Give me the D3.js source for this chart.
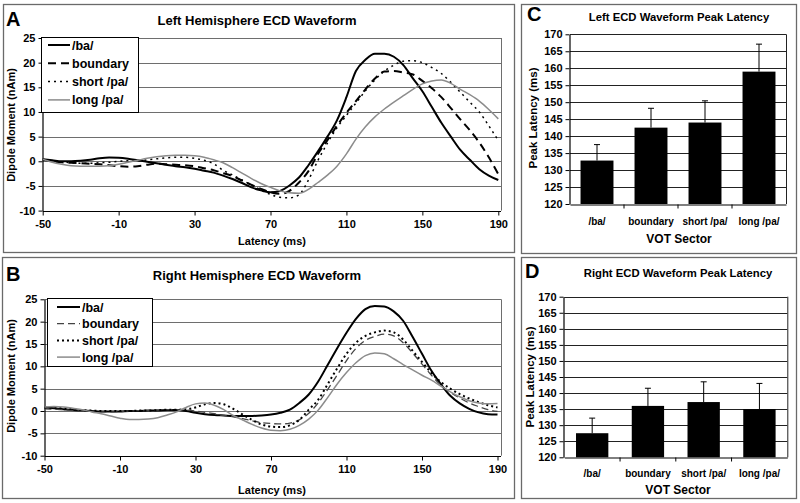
<!DOCTYPE html>
<html><head><meta charset="utf-8">
<script src="https://cdn.jsdelivr.net/npm/d3@7"></script>
<style>
html,body{margin:0;padding:0;background:#fff;}
svg{display:block;font-family:"Liberation Sans",Arial,sans-serif;}
</style></head>
<body><svg id="c" width="800" height="503"></svg>
<script>
// ---------------- DATA ----------------
const latency = [-50,-45,-40,-35,-30,-25,-20,-15,-10,-5,0,5,10,15,20,25,30,35,40,45,50,55,60,65,70,75,80,85,90,95,100,105,110,115,120,125,130,135,140,145,150,155,160,165,170,175,180,185,190];
const seriesNames = ["/ba/","boundary","short /pa/","long /pa/"];
const latencyTicks = [-50,-10,30,70,110,150,190];
const momentTicks = [-10,-5,0,5,10,15,20,25];

const leftBa = [0.4,0.2,0.0,0.0,0.1,0.3,0.6,0.75,0.7,0.5,
  0.2,-0.1,-0.4,-0.7,-1.0,-1.2,-1.5,-1.9,-2.3,-2.9,
  -3.6,-4.4,-5.3,-5.9,-6.3,-6.0,-4.9,-3.3,-0.8,2.0,
  5.0,8.3,13.0,18.3,20.6,21.8,21.8,21.2,19.5,16.8,
  14.2,11.0,7.8,5.0,2.3,0.3,-1.6,-2.9,-3.8];
const leftBoundary = [0.3,0.0,-0.2,-0.3,-0.4,-0.5,-0.6,-0.8,-1.0,-1.1,
  -1.0,-0.7,-0.5,-0.6,-0.7,-0.8,-1.0,-1.4,-1.8,-2.4,
  -3.0,-3.9,-4.8,-5.6,-6.3,-6.6,-6.0,-4.3,-2.0,1.5,
  4.3,7.2,9.8,12.2,14.6,16.8,18.2,18.3,18.0,17.6,
  16.3,14.8,13.0,10.8,8.5,6.3,3.8,0.8,-2.6];
const leftShort = [0.4,0.1,-0.1,-0.3,-0.4,-0.4,-0.3,-0.2,0.0,0.1,
  0.1,0.3,0.5,0.7,0.8,0.8,0.6,0.2,-0.5,-1.8,
  -2.8,-3.8,-4.8,-5.8,-6.7,-7.3,-7.4,-6.8,-3.8,0.2,
  3.7,6.8,9.3,11.8,14.3,16.5,18.3,19.5,20.3,20.4,
  20.0,19.0,17.8,16.0,14.0,12.0,10.0,7.2,4.2];
const leftLong = [0.4,-0.2,-0.6,-0.9,-1.0,-1.0,-1.0,-0.9,-0.6,-0.2,
  0.2,0.6,0.9,1.1,1.2,1.2,1.1,0.8,0.3,-0.3,
  -1.3,-2.4,-3.5,-4.5,-5.3,-6.0,-6.4,-6.5,-5.7,-4.3,
  -2.8,-1.0,1.5,4.5,7.0,9.0,10.6,12.0,13.3,14.6,
  15.7,16.3,16.5,15.8,14.6,13.5,12.2,10.5,8.6];

const rightBa = [0.8,0.6,0.4,0.2,0.1,0.0,-0.1,-0.1,-0.1,0.0,
  0.0,0.1,0.1,0.2,0.2,0.0,-0.4,-0.7,-0.9,-1.0,
  -1.1,-1.1,-1.1,-1.0,-0.8,-0.4,0.3,1.8,3.7,6.6,
  10.3,14.0,17.5,20.6,22.8,23.5,23.4,22.3,20.2,16.6,
  12.8,9.0,6.0,3.4,1.7,0.5,-0.3,-0.7,-0.8];
const rightBoundary = [0.5,0.4,0.3,0.1,0.0,-0.1,-0.2,-0.2,-0.1,0.0,
  0.1,0.1,0.2,0.3,0.3,0.2,0.0,-0.3,-0.6,-1.0,
  -1.3,-1.7,-2.2,-2.6,-2.8,-2.9,-2.7,-2.0,-0.5,1.8,
  4.8,8.0,11.3,14.0,15.8,16.7,17.2,16.8,15.3,13.0,
  10.5,8.0,5.8,4.2,2.9,1.8,1.0,0.3,-0.1];
const rightShort = [0.8,0.7,0.6,0.4,0.2,0.1,0.0,0.0,0.0,0.0,
  0.1,0.1,0.2,0.3,0.3,0.4,0.8,1.5,1.8,1.5,
  0.5,-0.8,-2.0,-3.0,-3.5,-3.6,-3.2,-2.0,0.3,2.5,
  6.0,9.5,12.8,15.3,16.8,17.6,18.0,17.6,16.0,13.5,
  11.0,8.5,6.5,5.0,3.8,2.8,2.0,1.3,0.8];
const rightLong = [0.9,1.0,0.9,0.6,0.3,-0.2,-0.6,-1.1,-1.6,-1.9,
  -1.9,-1.8,-1.5,-0.9,-0.2,0.8,1.6,1.8,1.3,0.3,
  -1.0,-2.0,-3.0,-3.8,-4.3,-4.4,-4.1,-3.2,-1.8,0.2,
  3.0,6.0,8.6,10.8,12.4,13.0,12.8,11.7,10.4,9.2,
  8.0,6.9,5.6,4.3,3.2,2.3,1.8,1.6,1.7];

const sectors = ["/ba/","boundary","short /pa/","long /pa/"];
const latencyBarTicks = [120,125,130,135,140,145,150,155,160,165,170];
const leftPeak = [132.8,142.5,144.0,159.0];
const leftPeakErr = [4.7,5.7,6.4,8.1];
const rightPeak = [127.5,136.0,137.2,135.0];
const rightPeakErr = [4.7,5.5,6.3,8.0];

// ---------------- DRAWING ----------------
const svg = d3.select("#c");
const FONT = '"Liberation Sans",Arial,sans-serif';
const plain = d => String(d);

function panelBox(x0,y0,x1,y1){
  svg.append("rect").attr("x",x0+0.5).attr("y",y0+0.5).attr("width",x1-x0).attr("height",y1-y0)
    .attr("fill","#fff").attr("stroke","#6a6a6a").attr("stroke-width",1.3);
}
function text(x,y,s,opt){
  opt=opt||{};
  const t=svg.append("text").attr("x",x).attr("y",y).text(s)
    .attr("font-size",opt.size||11).attr("font-weight",opt.weight||"bold")
    .attr("text-anchor",opt.anchor||"middle").attr("fill","#000");
  if(opt.rotate) t.attr("transform",`rotate(-90,${x},${y})`);
  return t;
}

function waveform(cfg){
  const x=d3.scaleLinear().domain([-50,190]).range([cfg.x0,cfg.x1]);
  const y=d3.scaleLinear().domain([-10,25]).range([cfg.yb,cfg.yt]);
  const g=svg.append("g");
  g.selectAll("line.grid").data(momentTicks.filter(v=>v>-10)).enter().append("line")
    .attr("x1",cfg.x0).attr("x2",cfg.xr).attr("y1",d=>Math.round(y(d))+0.5).attr("y2",d=>Math.round(y(d))+0.5)
    .attr("stroke","#6e6e6e").attr("stroke-width",1);
  g.append("line").attr("x1",cfg.xr+0.5).attr("x2",cfg.xr+0.5).attr("y1",y(25)).attr("y2",y(-10))
    .attr("stroke","#6e6e6e");
  const ya=g.append("g").attr("transform",`translate(${Math.round(cfg.x0)-0.5},0)`)
    .call(d3.axisLeft(y).tickValues(momentTicks).tickFormat(plain).tickSize(4).tickSizeOuter(0).tickPadding(3));
  const xa=g.append("g").attr("transform",`translate(0,${Math.round(y(-10))+0.5})`)
    .call(d3.axisBottom(x).tickValues(latencyTicks).tickFormat(plain).tickSize(4).tickSizeOuter(0).tickPadding(5));
  [ya,xa].forEach(a=>{
    a.select(".domain").attr("stroke","#000").attr("stroke-width",1.2);
    a.selectAll(".tick line").attr("stroke","#000");
    a.selectAll("text").attr("font-family",FONT).attr("font-size",11).attr("font-weight","bold").attr("fill","#000");
  });
  xa.select(".domain").attr("d",`M${cfg.x0},0H${cfg.xr}`);
  const line=d3.line().x((d,i)=>x(latency[i])).y(d=>y(d)).curve(d3.curveMonotoneX);
  cfg.series.forEach(s=>{
    g.append("path").datum(s.values).attr("d",line).attr("fill","none")
      .attr("stroke",s.color).attr("stroke-width",s.width).attr("stroke-dasharray",s.dash||null)
      .attr("stroke-linejoin","round");
  });
  const L=cfg.legend;
  g.append("rect").attr("x",L.x+0.5).attr("y",L.y+0.5).attr("width",L.w).attr("height",L.h)
    .attr("fill","#fff").attr("stroke","#000").attr("stroke-width",1);
  cfg.series.forEach((s,i)=>{
    const yy=L.y+L.first+i*L.step;
    g.append("line").attr("x1",L.x+L.s0).attr("x2",L.x+L.s1).attr("y1",yy).attr("y2",yy)
      .attr("stroke",s.color).attr("stroke-width",s.width).attr("stroke-dasharray",s.dash||null);
    g.append("text").attr("x",L.x+L.s1+2).attr("y",yy+4.5).text(seriesNames[i])
      .attr("font-size",12.5).attr("font-weight","bold").attr("fill","#000");
  });
  text(cfg.letterX,cfg.titleY+1,cfg.letter,{size:20,anchor:"start"});
  text(257,cfg.titleY,cfg.title,{size:13});
  text(15,cfg.ytitleY,"Dipole Moment (nAm)",{size:11,rotate:true});
  text(272,cfg.xtitleY,"Latency (ms)",{size:11});
}

function barPanel(cfg){
  const x=d3.scaleBand().domain(sectors).range([cfg.x0,cfg.x1]).paddingInner(cfg.pad).paddingOuter(cfg.pad/2);
  const y=d3.scaleLinear().domain([120,170]).range([cfg.yb,cfg.yt]);
  const g=svg.append("g");
  g.selectAll("line.grid").data(latencyBarTicks.filter(v=>v>120)).enter().append("line")
    .attr("x1",cfg.x0).attr("x2",cfg.x1).attr("y1",d=>Math.round(y(d))+0.5).attr("y2",d=>Math.round(y(d))+0.5)
    .attr("stroke","#222").attr("stroke-width",1);
  g.append("line").attr("x1",cfg.x1+0.5).attr("x2",cfg.x1+0.5).attr("y1",y(170)).attr("y2",y(120)).attr("stroke","#222");
  g.selectAll("rect.bar").data(cfg.values).enter().append("rect")
    .attr("x",(d,i)=>x(sectors[i])).attr("width",x.bandwidth())
    .attr("y",d=>y(d)).attr("height",d=>y(120)-y(d)).attr("fill","#000");
  cfg.values.forEach((v,i)=>{
    const cx=x(sectors[i])+x.bandwidth()/2;
    g.append("line").attr("x1",cx).attr("x2",cx).attr("y1",y(v)).attr("y2",y(v+cfg.err[i])).attr("stroke","#000").attr("stroke-width",1);
    g.append("line").attr("x1",cx-3).attr("x2",cx+3).attr("y1",y(v+cfg.err[i])).attr("y2",y(v+cfg.err[i])).attr("stroke","#000").attr("stroke-width",1);
  });
  const ya=g.append("g").attr("transform",`translate(${Math.round(cfg.x0)-0.5},0)`)
    .call(d3.axisLeft(y).tickValues(latencyBarTicks).tickFormat(plain).tickSize(4).tickSizeOuter(0).tickPadding(3));
  const xa=g.append("g").attr("transform",`translate(0,${Math.round(y(120))+0.5})`)
    .call(d3.axisBottom(x).tickSize(0).tickSizeOuter(0).tickPadding(cfg.catPad));
  const step=x.step();
  const bounds=sectors.slice(1).map(s=>x(s)-step*cfg.pad/2);
  xa.selectAll("line.bt").data(bounds).enter().append("line")
    .attr("x1",d=>d).attr("x2",d=>d).attr("y1",0).attr("y2",4).attr("stroke","#000");
  [ya,xa].forEach(a=>{
    a.select(".domain").attr("stroke","#000").attr("stroke-width",1.2);
    a.selectAll(".tick line").attr("stroke","#000");
    a.selectAll("text").attr("font-family",FONT).attr("font-weight","bold").attr("fill","#000");
  });
  ya.selectAll("text").attr("font-size",11);
  xa.selectAll("text").attr("font-size",10);
  text(cfg.letterX,cfg.letterY,cfg.letter,{size:20,anchor:"start"});
  text(cfg.titleX,cfg.titleY,cfg.title,{size:11.3});
  text(cfg.ytX,cfg.ytY,"Peak Latency (ms)",{size:11.5,rotate:true});
  text(cfg.titleX,cfg.vY,"VOT Sector",{size:12});
}

panelBox(3,4,514,252);
panelBox(2,257,514,498);
panelBox(521,4,796,253);
panelBox(521,257,796,498);

waveform({x0:42.7,x1:498.3,xr:501,yt:38,yb:210.6,letter:"A",letterX:6,titleY:25,
  title:"Left Hemisphere ECD Waveform",ytitleY:125,xtitleY:245,
  legend:{x:41,y:37,w:97,h:75,first:8,step:18.3,s0:7,s1:29},
  series:[
    {values:leftBa,color:"#000",width:2},
    {values:leftBoundary,color:"#000",width:2,dash:"8,5"},
    {values:leftShort,color:"#000",width:1.5,dash:"2,4"},
    {values:leftLong,color:"#8c8c8c",width:1.5}
  ]});
waveform({x0:44.5,x1:497.5,xr:501,yt:299.3,yb:455.7,letter:"B",letterX:6,titleY:280,
  title:"Right Hemisphere ECD Waveform",ytitleY:376,xtitleY:494,
  legend:{x:47,y:298,w:105,h:68,first:9,step:16.7,s0:10,s1:33},
  series:[
    {values:rightBa,color:"#000",width:2},
    {values:rightBoundary,color:"#444",width:1.3,dash:"7,4"},
    {values:rightShort,color:"#000",width:2,dash:"2,3"},
    {values:rightLong,color:"#8c8c8c",width:1.5}
  ]});

barPanel({x0:570,x1:786,yt:34.3,yb:204,pad:0.39,values:leftPeak,err:leftPeakErr,catPad:13,
  letter:"C",letterX:527,letterY:21,title:"Left ECD Waveform Peak Latency",titleX:679,titleY:21,
  ytX:537,ytY:118,vY:243});
barPanel({x0:564.3,x1:787.3,yt:296.7,yb:457.3,pad:0.42,values:rightPeak,err:rightPeakErr,catPad:12,
  letter:"D",letterX:525,letterY:278,title:"Right ECD Waveform Peak Latency",titleX:678,titleY:277,
  ytX:534,ytY:377,vY:494});
</script></body></html>
